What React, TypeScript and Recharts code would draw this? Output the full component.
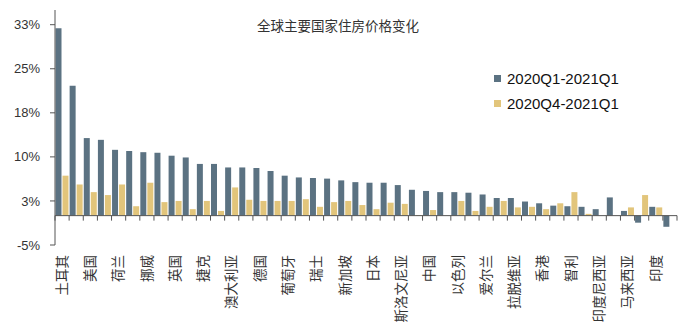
import { BarChart, Bar, XAxis, YAxis, ReferenceLine } from "recharts"

// categories: only every other country is labelled in the source chart
const countries = [
  "土耳其", "", "美国", "", "荷兰", "", "挪威", "", "英国", "", "捷克", "",
  "澳大利亚", "", "德国", "", "葡萄牙", "", "瑞士", "", "新加坡", "", "日本", "",
  "斯洛文尼亚", "", "中国", "", "以色列", "", "爱尔兰", "", "拉脱维亚", "", "香港", "",
  "智利", "", "印度尼西亚", "", "马来西亚", "", "印度", "",
]

// 2020Q1-2021Q1 (%)
const yoy = [
  31.9, 22.1, 13.2, 12.9, 11.2, 11.0, 10.8, 10.7, 10.2, 9.9, 8.8, 8.8,
  8.2, 8.2, 8.1, 7.6, 6.8, 6.5, 6.4, 6.3, 6.0, 5.7, 5.6, 5.6,
  5.2, 4.4, 4.2, 4.0, 4.0, 3.9, 3.6, 3.0, 3.0, 2.4, 2.1, 1.7,
  1.6, 1.5, 1.1, 3.1, 0.8, -1.2, 1.5, -1.9,
]

// 2020Q4-2021Q1 (%)
const qoq = [
  6.8, 5.3, 4.0, 3.5, 5.3, 1.6, 5.6, 2.3, 2.5, 1.1, 2.5, 0.8,
  4.8, 2.7, 2.5, 2.5, 2.5, 2.8, 1.5, 2.3, 2.5, 1.8, 1.1, 2.2,
  2.0, 0.1, 0.95, 0, 2.5, 0.8, 1.5, 2.5, 1.4, 1.5, 1.1, 2.1,
  4.0, 0.3, 0, 0, 1.4, 3.5, 1.4, 0,
]

const yTicks = [-5, 2.5, 10, 17.5, 25, 32.5]

const SERIES = [
  { key: "yoy", label: "2020Q1-2021Q1", color: "#5b7282" },
  { key: "qoq", label: "2020Q4-2021Q1", color: "#e2c57b" },
]

const W = 681
const H = 336
const M = { top: 10, right: 4, bottom: 6, left: 0 }
const Y_W = 55
const X_H = 85
const DOMAIN: [number, number] = [-5, 35]
const AXIS = "#555"
const FONT = '"Liberation Sans", "Noto Sans CJK SC", sans-serif'

const plotH = H - M.top - M.bottom - X_H
const zeroY = M.top + (DOMAIN[1] / (DOMAIN[1] - DOMAIN[0])) * plotH
const band = (W - M.left - M.right - Y_W) / countries.length

const data = countries.map((name, i) => ({ id: i, name, yoy: yoy[i], qoq: qoq[i] }))

function CountryTick({ x, payload }: any) {
  const i = payload.index
  const left = x - band / 2
  const name = countries[i]
  return (
    <g>
      <line x1={left} x2={left} y1={zeroY} y2={zeroY + 5} stroke={AXIS} />
      {i === countries.length - 1 && (
        <line x1={x + band / 2} x2={x + band / 2} y1={zeroY} y2={zeroY + 5} stroke={AXIS} />
      )}
      {name && (
        <text
          x={x}
          y={255}
          dy="0.35em"
          transform={`rotate(-90, ${x}, 255)`}
          textAnchor="end"
          fontSize={13.5}
          fill="#333"
          fontFamily={FONT}
        >
          {name}
        </text>
      )}
    </g>
  )
}

export default function App() {
  return (
    <div style={{ position: "absolute", left: 0, top: 0, width: W, height: H, background: "#fff", fontFamily: FONT }}>
      <BarChart width={W} height={H} data={data} margin={M} barCategoryGap={0.5} barGap={1}>
        <XAxis
          dataKey="id"
          height={X_H}
          interval={0}
          axisLine={false}
          tickLine={false}
          tick={<CountryTick />}
        />
        <YAxis
          width={Y_W}
          domain={DOMAIN}
          ticks={yTicks}
          allowDataOverflow
          tickFormatter={(v: number) => `${Math.round(v)}%`}
          tick={{ fill: "#333", fontSize: 13, fontFamily: FONT }}
          axisLine={{ stroke: AXIS }}
          tickLine={{ stroke: AXIS }}
          tickSize={5}
          tickMargin={10}
        />
        <ReferenceLine y={0} stroke={AXIS} />
        {SERIES.map(s => (
          <Bar key={s.key} dataKey={s.key} fill={s.color} isAnimationActive={false} />
        ))}
      </BarChart>

      {/* title */}
      <div style={{ position: "absolute", left: 0, width: 676, top: 15, textAlign: "center", fontSize: 13.5, color: "#333" }}>
        全球主要国家住房价格变化
      </div>

      {/* legend */}
      <div style={{ position: "absolute", left: 494, top: 66 }}>
        {SERIES.map(s => (
          <div key={s.key} style={{ display: "flex", alignItems: "center", height: 25 }}>
            <div style={{ width: 7, height: 7, background: s.color, marginRight: 6 }} />
            <span style={{ fontSize: 15, color: "#111" }}>{s.label}</span>
          </div>
        ))}
      </div>
    </div>
  )
}
